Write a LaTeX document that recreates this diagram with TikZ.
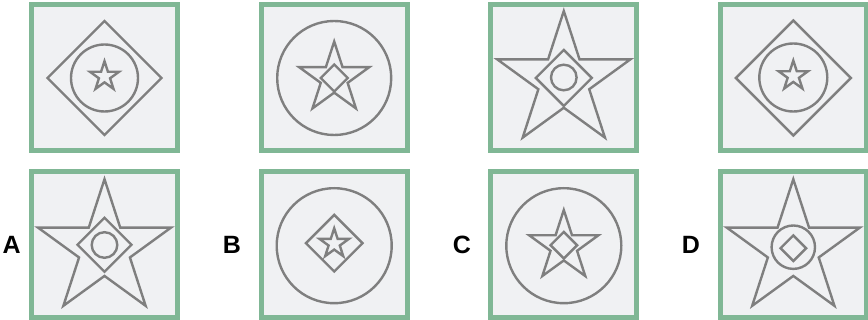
\documentclass[tikz,border=0pt]{standalone}
\usepackage{fontspec}
\setmainfont{Liberation Sans}
\definecolor{boxfill}{HTML}{F0F1F3}
\definecolor{boxgreen}{HTML}{80B795}
\definecolor{shapegray}{HTML}{7F7F7F}
\tikzset{
  panel/.style={draw=boxgreen, fill=boxfill, line width=5pt, minimum size=146pt, inner sep=0pt},
  sh/.style={draw=shapegray, line width=2.4pt, line join=miter},
  lab/.style={font=\bfseries\fontsize{25}{30}\selectfont, inner sep=0pt}
}
% star: centre x, centre y, outer radius
\newcommand{\pstar}[3]{%
  \draw[sh] ($(#1,#2)+(-90:#3)$)
    \foreach \k in {1,...,9}{
      -- ($(#1,#2)+({-90+36*\k}:{#3*(0.382+0.618*(1-mod(\k,2)))})$)
    } -- cycle;}
\newcommand{\pdiam}[3]{%
  \draw[sh] ($(#1,#2)+(0,-#3)$) -- ($(#1,#2)+(#3,0)$) -- ($(#1,#2)+(0,#3)$) -- ($(#1,#2)+(-#3,0)$) -- cycle;}
\newcommand{\pcirc}[3]{%
  \draw[sh] (#1,#2) circle[radius=#3pt];}
\usetikzlibrary{calc}
\begin{document}
\begin{tikzpicture}[x=1pt,y=-1pt]
\useasboundingbox (0,0) rectangle (868,320);
% panels
\node[panel] (p1) at (104.5,78) {};
\node[panel] (p2) at (334.2,78) {};
\node[panel] (p3) at (563.8,78) {};
\node[panel] (p4) at (793.3,78) {};
\node[panel] (pa) at (104.5,244.2) {};
\node[panel] (pb) at (334.2,244.2) {};
\node[panel] (pc) at (563.8,244.2) {};
\node[panel] (pd) at (793.3,244.2) {};
% panel 1
\pdiam{104.5}{78}{57}
\pcirc{104.5}{78}{33.5}
\pstar{104.5}{76.5}{15.3}
% panel 2
\pcirc{334.2}{78}{57}
\pstar{334.2}{78.5}{37}
\pdiam{334.2}{78}{13.5}
% panel 3
\pstar{563.8}{81}{70}
\pdiam{563.8}{78}{28}
\pcirc{563.8}{77.5}{12.8}
% panel 4
\pdiam{793.3}{78}{57.5}
\pcirc{793.3}{77.5}{34}
\pstar{793.3}{76}{15.5}
% A
\pstar{104.5}{249.2}{70}
\pdiam{104.5}{244.7}{27}
\pcirc{104.5}{245}{12.8}
% B
\pcirc{334.2}{245.7}{57.5}
\pdiam{334.2}{243.2}{28.3}
\pstar{334.2}{243.7}{15.4}
% C
\pcirc{563.8}{245.7}{57.5}
\pstar{563.8}{246.5}{36.5}
\pdiam{563.8}{245.2}{13.3}
% D
\pstar{793.3}{249.2}{70}
\pcirc{793.3}{247.2}{21.7}
\pdiam{793.3}{248.2}{12.8}
% labels
\node[lab] (la) at (11.7,245.2) {A};
\node[lab] (lb) at (232,245.2) {B};
\node[lab] (lc) at (462,245.2) {C};
\node[lab] (ld) at (691,245.2) {D};
\end{tikzpicture}
\end{document}
